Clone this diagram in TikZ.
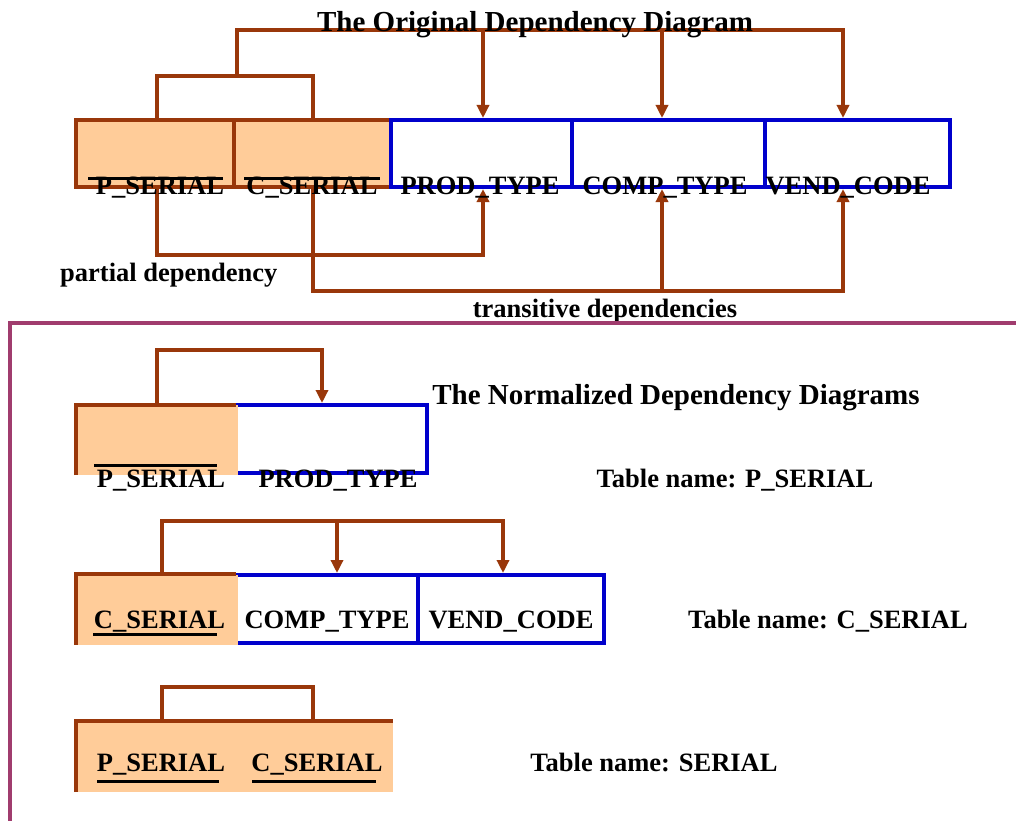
\documentclass[tikz,border=0pt]{standalone}
\usepackage{fontspec}
\setmainfont{Liberation Serif}
\usetikzlibrary{arrows.meta}
\definecolor{keyfill}{RGB}{255,204,153}
\definecolor{rust}{RGB}{153,55,10}
\definecolor{attrblue}{RGB}{0,0,204}
\definecolor{framepurple}{RGB}{160,60,110}

\tikzset{
  keycell/.style={draw=rust, fill=keyfill, line width=4pt, rectangle, inner sep=0pt},
  keyarea/.style={fill=keyfill, rectangle, inner sep=0pt},
  keyedge/.style={draw=rust, line width=4pt},
  attrcell/.style={draw=attrblue, line width=4pt, rectangle, inner sep=0pt},
  lbl/.style={font=\fontsize{26.5}{30}\selectfont\bfseries, anchor=base, inner sep=0pt},
  ttl/.style={font=\fontsize{29}{33}\selectfont\bfseries, anchor=base, inner sep=0pt},
  dep/.style={draw=rust, line width=3.5pt},
  deparrow/.style={dep, -{Triangle[width=12pt,length=13pt]}},
  keybar/.style={line width=3pt}
}

\begin{document}
\begin{tikzpicture}[x=1pt,y=-1pt]
\useasboundingbox (0,0) rectangle (1016,821);

% ---------- original dependency diagram ----------
\node[keycell, minimum width=158pt, minimum height=67pt] (tP) at (155,153.5) {};
\node[keycell, minimum width=157pt, minimum height=67pt] (tC) at (312.5,153.5) {};
\node[attrcell, minimum width=181pt, minimum height=67pt] (tPR) at (481.5,153.5) {};
\node[attrcell, minimum width=193pt, minimum height=67pt] (tCO) at (668.5,153.5) {};
\node[attrcell, minimum width=185pt, minimum height=67pt] (tV) at (857.5,153.5) {};

% full dependency on the composite key
\coordinate (hub) at (237,76);
\coordinate (busL) at (237,30);
\coordinate (busR) at (843,30);
\coordinate (aPR) at (483,30);
\coordinate (aCO) at (662,30);
\draw[dep] ([xshift=2pt]tP.north) |- (hub) -| ([xshift=0.5pt]tC.north);
\draw[deparrow] (hub) -- (busL) -- (busR) -- (busR |- tV.north);
\draw[deparrow] (aPR) -- (aPR |- tPR.north);
\draw[deparrow] (aCO) -- (aCO |- tCO.north);

% partial and transitive dependencies
\coordinate (pd) at (483,255);
\coordinate (td) at (843,291);
\coordinate (tm) at (662,291);
\draw[deparrow] ([xshift=2pt]tP.south) |- (pd) -- (pd |- tPR.south);
\draw[deparrow] ([xshift=0.5pt]tC.south) |- (td) -- (td |- tV.south);
\draw[deparrow] (tm) -- (tm |- tCO.south);

\node[ttl] (title1) at (535,32) {The Original Dependency Diagram};
\node[lbl] (lP) at (160,194) {P\_SERIAL};
\node[lbl] (lC) at (312,194) {C\_SERIAL};
\node[lbl] (lPR) at (480,194) {PROD\_TYPE};
\node[lbl] (lCO) at (665,194) {COMP\_TYPE};
\node[lbl] (lV) at (848,194) {VEND\_CODE};
\draw[keybar] (88,178) -- (223,178);
\draw[keybar] (244,178) -- (380,178);

\node[lbl, anchor=base west] (partial) at (60,281) {partial dependency};
\node[lbl] (transitive) at (605,317) {transitive dependencies};

% ---------- frame of the normalized part ----------
\draw[framepurple, line width=4pt] (1016,323) -- (10,323) -- (10,821);

\node[ttl] (title2) at (676,404) {The Normalized Dependency Diagrams};

% table P_SERIAL
\node[attrcell, minimum width=191pt, minimum height=68pt] (n1PR) at (331.5,439) {};
\node[keyarea, minimum width=162pt, minimum height=70pt] (n1P) at (157,440) {};
\draw[keyedge] (n1P.south west) -- (n1P.north west) -- ([xshift=-2pt]n1P.north east);
\coordinate (r1) at (322,350);
\draw[deparrow] (n1P.north) |- (r1) -- (r1 |- n1PR.north);
\node[lbl] (m1P) at (161,487) {P\_SERIAL};
\node[lbl] (m1PR) at (338,487) {PROD\_TYPE};
\draw[keybar] (94,465) -- (217,465);
\node[lbl] (tab1) at (735,487) {Table name: P\_SERIAL};

% table C_SERIAL
\node[attrcell, minimum width=182pt, minimum height=68pt] (n2CO) at (327,609) {};
\node[attrcell, minimum width=186pt, minimum height=68pt] (n2V) at (511,609) {};
\node[keyarea, minimum width=162pt, minimum height=70pt] (n2C) at (157,609.5) {};
\draw[keyedge] (n2C.south west) -- (n2C.north west) -- ([xshift=-2pt]n2C.north east);
\coordinate (r2L) at (162,521);
\coordinate (r2M) at (337,521);
\coordinate (r2R) at (503,521);
\draw[dep] (r2L |- n2C.north) -- (r2L) -- (r2M);
\draw[deparrow] (r2M) -- (r2R) -- (r2R |- n2V.north);
\draw[deparrow] (r2M) -- (r2M |- n2CO.north);
\node[lbl] (m2C) at (159.5,628) {C\_SERIAL};
\node[lbl] (m2CO) at (327,628) {COMP\_TYPE};
\node[lbl] (m2V) at (511,628) {VEND\_CODE};
\draw[keybar] (93,634) -- (217,634);
\node[lbl] (tab2) at (828,628) {Table name: C\_SERIAL};

% table SERIAL
\node[keyarea, minimum width=317pt, minimum height=71pt] (n3) at (234.5,756.5) {};
\draw[keyedge] (n3.south west) -- (n3.north west) -- (n3.north east);
\coordinate (r3L) at (162,687);
\coordinate (r3R) at (313,687);
\draw[dep] (r3L |- n3.north) -- (r3L) -- (r3R) -- (r3R |- n3.north);
\node[lbl] (m3P) at (161,771) {P\_SERIAL};
\node[lbl] (m3C) at (317,771) {C\_SERIAL};
\draw[keybar] (97,781) -- (219,781);
\draw[keybar] (252,781) -- (376,781);
\node[lbl] (tab3) at (654,771) {Table name: SERIAL};
\end{tikzpicture}
\end{document}
